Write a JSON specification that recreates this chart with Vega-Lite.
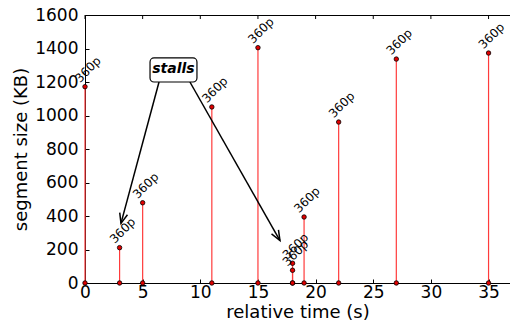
{
  "$schema": "https://vega.github.io/schema/vega-lite/v6.json",
  "width": 425,
  "height": 268,
  "autosize": {"type": "none"},
  "padding": {"left": 85, "top": 15, "right": 0, "bottom": 41},
  "config": {
    "font": "DejaVu Sans",
    "numberFormat": "d",
    "view": {"stroke": "black", "strokeWidth": 1},
    "axis": {"grid": false, "domainColor": "black", "tickColor": "black", "labelColor": "black", "titleColor": "black", "labelFont": "DejaVu Sans", "titleFont": "DejaVu Sans", "titleFontWeight": "normal", "labelFontSize": 17, "titleFontSize": 18, "tickSize": -4, "labelFlush": false},
    "axisX": {"titlePadding": 3, "labelPadding": 5},
    "axisY": {"titlePadding": 4, "labelPadding": 11}
  },
  "datasets": {
    "seg": [
      {"t": 0, "size": 1172, "label": "360p", "zero": 0},
      {"t": 3, "size": 211, "label": "360p", "zero": 0},
      {"t": 5, "size": 479, "label": "360p", "zero": 0},
      {"t": 11, "size": 1051, "label": "360p", "zero": 0},
      {"t": 15, "size": 1405, "label": "360p", "zero": 0},
      {"t": 18, "size": 118, "label": "360p", "zero": 0},
      {"t": 18, "size": 76, "label": "360p", "zero": 0},
      {"t": 19, "size": 394, "label": "360p", "zero": 0},
      {"t": 22, "size": 961, "label": "360p", "zero": 0},
      {"t": 27, "size": 1337, "label": "360p", "zero": 0},
      {"t": 35, "size": 1373, "label": "360p", "zero": 0}
    ],
    "topticks": [
      {"t": 0, "size": 1600, "end": 1576},
      {"t": 5, "size": 1600, "end": 1576},
      {"t": 10, "size": 1600, "end": 1576},
      {"t": 15, "size": 1600, "end": 1576},
      {"t": 20, "size": 1600, "end": 1576},
      {"t": 25, "size": 1600, "end": 1576},
      {"t": 30, "size": 1600, "end": 1576},
      {"t": 35, "size": 1600, "end": 1576}
    ],
    "arrows": [
      {"id": "a", "t": 6.42, "size": 1200},
      {"id": "a", "t": 3.12, "size": 356},
      {"id": "b", "t": 9.1, "size": 1200},
      {"id": "b", "t": 16.91, "size": 253}
    ],
    "heads": [
      {"t": 3.12, "size": 356, "ang": 195.2},
      {"t": 16.91, "size": 253, "ang": 150.2}
    ],
    "box": [
      {"t": 5.64, "t2": 9.71, "size": 1344, "size2": 1200, "xc": 7.67, "yc": 1275, "text": "stalls"}
    ]
  },
  "layer": [
    {
      "data": {"name": "seg"},
      "mark": {"type": "rule", "color": "#ff3b3b", "strokeWidth": 1.2},
      "encoding": {
        "x": {"field": "t", "type": "quantitative", "scale": {"domain": [0, 36.86], "nice": false, "zero": false}, "title": "relative time (s)"},
        "y": {"field": "size", "type": "quantitative", "scale": {"domain": [0, 1600], "nice": false}, "title": "segment size (KB)"},
        "y2": {"field": "zero"}
      }
    },
    {
      "data": {"name": "topticks"},
      "mark": {"type": "rule", "color": "black", "strokeWidth": 1},
      "encoding": {
        "x": {"field": "t", "type": "quantitative"},
        "y": {"field": "size", "type": "quantitative"},
        "y2": {"field": "end"}
      }
    },
    {
      "data": {"name": "seg"},
      "mark": {"type": "point", "filled": true, "fill": "#e00000", "stroke": "black", "strokeWidth": 0.8, "size": 20, "opacity": 1, "clip": false},
      "encoding": {
        "x": {"field": "t", "type": "quantitative"},
        "y": {"field": "size", "type": "quantitative"}
      }
    },
    {
      "data": {"name": "seg"},
      "mark": {"type": "point", "filled": true, "fill": "#e00000", "stroke": "black", "strokeWidth": 0.8, "size": 20, "opacity": 1, "clip": false},
      "encoding": {
        "x": {"field": "t", "type": "quantitative"},
        "y": {"field": "zero", "type": "quantitative"}
      }
    },
    {
      "data": {"name": "seg"},
      "mark": {"type": "text", "angle": 315, "align": "left", "baseline": "alphabetic", "dx": -1, "dy": -6, "fontSize": 12, "color": "black"},
      "encoding": {
        "x": {"field": "t", "type": "quantitative"},
        "y": {"field": "size", "type": "quantitative"},
        "text": {"field": "label"}
      }
    },
    {
      "data": {"name": "arrows"},
      "mark": {"type": "line", "color": "black", "strokeWidth": 1.5},
      "encoding": {
        "x": {"field": "t", "type": "quantitative"},
        "y": {"field": "size", "type": "quantitative"},
        "detail": {"field": "id"}
      }
    },
    {
      "data": {"name": "heads"},
      "mark": {"type": "point", "shape": "M-0.4,1L0,0L0.4,1", "filled": false, "stroke": "black", "strokeWidth": 1.5, "size": 400, "opacity": 1},
      "encoding": {
        "x": {"field": "t", "type": "quantitative"},
        "y": {"field": "size", "type": "quantitative"},
        "angle": {"field": "ang", "type": "quantitative", "scale": null}
      }
    },
    {
      "data": {"name": "box"},
      "mark": {"type": "rect", "fill": "white", "stroke": "black", "strokeWidth": 1.2, "cornerRadius": 4},
      "encoding": {
        "x": {"field": "t", "type": "quantitative"},
        "x2": {"field": "t2"},
        "y": {"field": "size", "type": "quantitative"},
        "y2": {"field": "size2"}
      }
    },
    {
      "data": {"name": "box"},
      "mark": {"type": "text", "fontSize": 14, "fontStyle": "italic", "fontWeight": "bold", "align": "center", "baseline": "middle", "color": "black"},
      "encoding": {
        "x": {"field": "xc", "type": "quantitative"},
        "y": {"field": "yc", "type": "quantitative"},
        "text": {"field": "text"}
      }
    }
  ]
}
